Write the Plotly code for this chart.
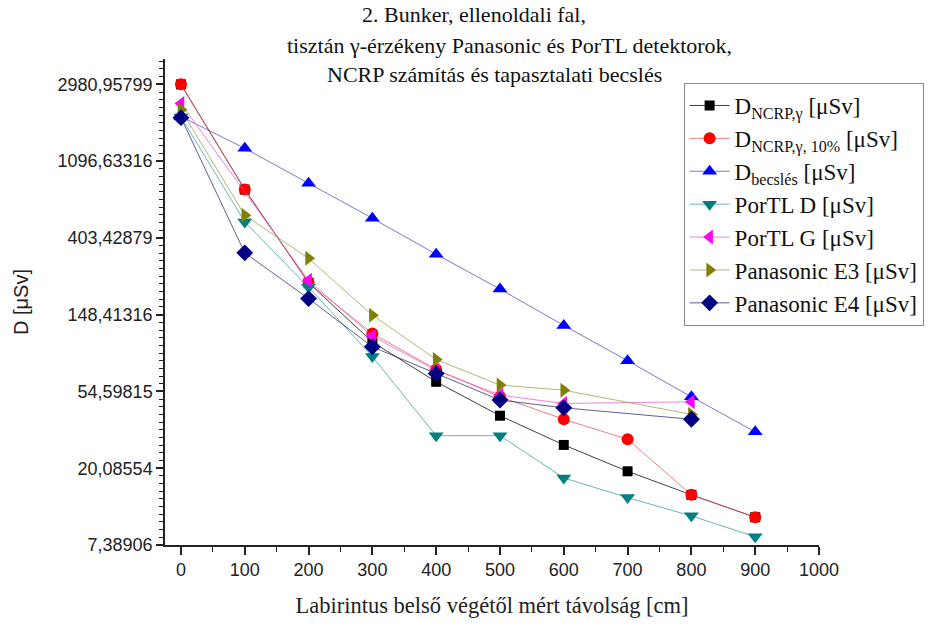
import math
import plotly.graph_objects as go

# ---- data ----
ncrp_x = [0, 100, 200, 300, 400, 500, 600, 700, 800, 900]
ncrp_y = [2980, 757, 225, 104, 61.9, 39.8, 27.2, 19.3, 14.2, 10.6]

ncrp10_x = [0, 100, 200, 300, 400, 500, 600, 700, 800, 900]
ncrp10_y = [2980, 757, 225, 116, 72.7, 50.9, 38.0, 29.3, 14.2, 10.6]

becs_x = [0, 100, 200, 300, 400, 500, 600, 700, 800, 900]
becs_y = [1960, 1295, 822, 521, 326, 207, 129, 81.5, 50.9, 32.3]

portl_d_x = [0, 100, 200, 300, 400, 500, 600, 700, 800, 900]
portl_d_y = [1950, 497, 212, 86, 30.7, 30.7, 17.7, 13.7, 10.8, 8.23]

portl_g_x = [0, 200, 300, 400, 500, 600, 800]
portl_g_y = [2320, 232, 112, 72, 52, 46.7, 47.7]

pan_e3_x = [0, 100, 200, 300, 400, 500, 600, 800]
pan_e3_y = [2140, 542, 309, 147.5, 82.8, 59.3, 55.5, 40.5]

pan_e4_x = [0, 100, 200, 300, 400, 500, 600, 800]
pan_e4_y = [1932, 332, 183, 97.6, 69, 48.8, 44.1, 38.0]

y_tickvals = [7.38906, 20.08554, 54.59815, 148.41316, 403.42879, 1096.63316, 2980.95799]
y_ticktext = ["7,38906", "20,08554", "54,59815", "148,41316", "403,42879", "1096,63316", "2980,95799"]
x_tickvals = [0, 100, 200, 300, 400, 500, 600, 700, 800, 900, 1000]

series = [
    ("D<sub>NCRP,γ</sub> [μSv]", ncrp_x, ncrp_y, "#000000", "rgba(0,0,0,0.75)", "square", 10),
    ("D<sub>NCRP,γ, 10%</sub> [μSv]", ncrp10_x, ncrp10_y, "#FF0000", "rgba(240,80,80,0.75)", "circle", 12),
    ("D<sub>becslés</sub> [μSv]", becs_x, becs_y, "#0000FF", "rgba(60,60,200,0.7)", "triangle-up", 13),
    ("PorTL D [μSv]", portl_d_x, portl_d_y, "#008080", "rgba(40,150,150,0.7)", "triangle-down", 13),
    ("PorTL G [μSv]", portl_g_x, portl_g_y, "#FF00FF", "rgba(230,80,200,0.7)", "triangle-left", 13),
    ("Panasonic E3 [μSv]", pan_e3_x, pan_e3_y, "#808000", "rgba(150,150,60,0.7)", "triangle-right", 13),
    ("Panasonic E4 [μSv]", pan_e4_x, pan_e4_y, "#000080", "rgba(40,40,110,0.75)", "diamond", 13),
]

SERIF = "Times New Roman, Liberation Serif, serif"
SANS = "Arial, Liberation Sans, sans-serif"

fig = go.Figure()
for name, xs, ys, mc, lc, sym, sz in series:
    fig.add_trace(go.Scatter(
        x=xs, y=ys, name=name, mode="lines+markers",
        line=dict(color=lc, width=1),
        marker=dict(color=mc, symbol=sym, size=sz, line=dict(width=0)),
    ))

# minor ticks on the ln-scale axis
minor_vals = []
for n in range(2, 9):
    for k in range(1, 10):
        if n + k / 10 <= 8.33:
            minor_vals.append(math.exp(n + k / 10))

L, R, T, B = 165, 114, 59, 81
PW, PH = 936 - L - R, 626 - T - B
fig.update_layout(
    width=936, height=626,
    margin=dict(l=L, r=R, t=T, b=B),
    paper_bgcolor="white", plot_bgcolor="white",
    showlegend=True,
    legend=dict(
        x=(686 - L) / PW, y=(626 - B - 83) / PH,
        xanchor="left", yanchor="top",
        bordercolor="#888888", borderwidth=1, bgcolor="white",
        font=dict(family=SERIF, size=23, color="#111"),
        tracegroupgap=0, itemwidth=40,
    ),
    xaxis=dict(
        range=[-25, 1000], showgrid=False, zeroline=False,
        showline=True, linecolor="#222", linewidth=1.5,
        ticks="outside", ticklen=8, tickwidth=1.5, tickcolor="#222",
        tickmode="array", tickvals=x_tickvals,
        tickfont=dict(family=SANS, size=18, color="#222"),
        minor=dict(tickmode="array", tickvals=[50, 150, 250, 350, 450, 550, 650, 750, 850, 950],
                   ticks="outside", ticklen=5, tickwidth=1.2, tickcolor="#222"),
        title=dict(text="Labirintus belső végétől mért távolság [cm]",
                   font=dict(family=SERIF, size=22.5, color="#222"),
                   standoff=18),
    ),
    yaxis=dict(
        type="log", range=[math.log10(math.exp(2)), math.log10(math.exp(8.33))],
        showgrid=False, zeroline=False,
        showline=True, linecolor="#222", linewidth=1.5,
        ticks="outside", ticklen=7, tickwidth=1.5, tickcolor="#222",
        tickmode="array", tickvals=y_tickvals, ticktext=y_ticktext,
        tickfont=dict(family=SANS, size=18, color="#222"),
        minor=dict(tickmode="array", tickvals=minor_vals,
                   ticks="outside", ticklen=4, tickwidth=1.2, tickcolor="#222"),
        title=dict(text="D [μSv]",
                   font=dict(family=SANS, size=20, color="#222"),
                   standoff=24),
    ),
)

title_lines = [
    ("2. Bunker, ellenoldali fal,", 475, 15),
    ("tisztán γ-érzékeny Panasonic és PorTL detektorok,", 511, 45),
    ("NCRP számítás és tapasztalati becslés", 496, 75),
]
for txt, px, py in title_lines:
    fig.add_annotation(
        text=txt, xref="paper", yref="paper",
        x=(px - L) / PW, y=(626 - B - py) / PH,
        xanchor="center", yanchor="middle", showarrow=False,
        font=dict(family=SERIF, size=22, color="#111"),
    )

fig.write_html("out.html")
